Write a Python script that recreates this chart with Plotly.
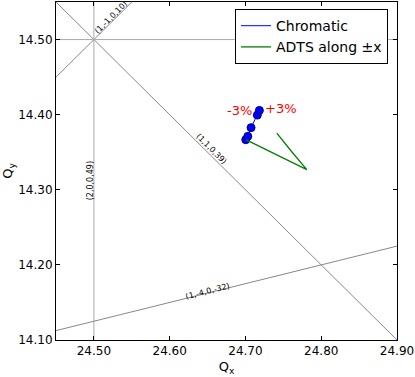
import numpy as np
import plotly.graph_objects as go

# resonance lines: a*Qx + b*Qy = n  (label, a, b, n)
res_labels = ["(1,-1,0,10)", "(1,1,0,39)", "(2,0,0,49)", "(0,2,0,29)", "(1,-4,0,-32)"]
res_a = [1, 1, 2, 0, 1]
res_b = [-1, 1, 0, 2, -4]
res_n = [10, 39, 49, 29, -32]
res_colors = ["#888888", "#888888", "#aaaaaa", "#aaaaaa", "#888888"]
# where each label sits (data coords) and its angle
lab_x = [24.5226, 24.6546, 24.4949, None, 24.6493]
lab_y = [14.5293, 14.3552, 14.3113, None, 14.1652]
lab_ang = [-45, 45, -90, 0, -14]

# chromatic tune footprint
chrom_x = [24.7004, 24.7031, 24.7074, 24.7157, 24.7184]
chrom_y = [14.3667, 14.3711, 14.3827, 14.3994, 14.4057]

# amplitude detuning along x
adts_x = [24.7004, 24.7410, 24.7810, 24.7600, 24.7414]
adts_y = [14.3667, 14.3470, 14.3269, 14.3520, 14.3755]

xr = [24.45, 24.90]
yr = [14.10, 14.55]

fig = go.Figure()

for lab, a, b, n, c in zip(res_labels, res_a, res_b, res_n, res_colors):
    if b == 0:
        xs = [n / a, n / a]
        ys = yr
    else:
        xs = np.array(xr)
        ys = (n - a * xs) / b
        xs = list(xs)
        ys = list(ys)
    fig.add_trace(go.Scatter(x=xs, y=ys, mode="lines", line=dict(color=c, width=1),
                             showlegend=False, hoverinfo="skip"))

for lab, lx, ly, ang in zip(res_labels, lab_x, lab_y, lab_ang):
    if lx is None:
        continue
    fig.add_annotation(x=lx, y=ly, text=lab, textangle=ang, showarrow=False,
                       font=dict(size=8, color="black"))

fig.add_trace(go.Scatter(x=chrom_x, y=chrom_y, mode="lines", name="Chromatic",
                         line=dict(color="blue", width=1)))
fig.add_trace(go.Scatter(x=chrom_x, y=chrom_y, mode="markers", showlegend=False,
                         marker=dict(color="blue", size=8, line=dict(color="#000080", width=1))))
fig.add_trace(go.Scatter(x=adts_x, y=adts_y, mode="lines", name="ADTS along \u00b1x",
                         line=dict(color="green", width=1.3)))

fig.add_annotation(x=chrom_x[-1], y=chrom_y[-1], text="-3%", showarrow=False,
                   xanchor="right", xshift=-5, yshift=0, font=dict(size=13, color="red"))
fig.add_annotation(x=chrom_x[-1], y=chrom_y[-1], text="+3%", showarrow=False,
                   xanchor="left", xshift=4, yshift=2, font=dict(size=13, color="red"))

axis = dict(showgrid=False, zeroline=False, showline=True, linecolor="black", linewidth=1,
            mirror="ticks", ticks="inside", ticklen=4, tickcolor="black", automargin=False,
            tickfont=dict(size=12, color="black"), tickformat=".2f")

fig.update_layout(
    width=415, height=377,
    margin=dict(l=56, r=18, t=2, b=37),
    paper_bgcolor="white", plot_bgcolor="white",
    font=dict(family="DejaVu Sans", color="black"),
    xaxis=dict(axis, range=xr, tickvals=[24.5, 24.6, 24.7, 24.8, 24.9],
               title=dict(text="Q<sub>x</sub>", font=dict(size=13), standoff=4)),
    yaxis=dict(axis, range=yr, tickvals=[14.1, 14.2, 14.3, 14.4, 14.5],
               title=dict(text="Q<sub>y</sub>", font=dict(size=13), standoff=6)),
    legend=dict(x=0.9736, y=0.979, xanchor="right", yanchor="top",
                bgcolor="white", bordercolor="black", borderwidth=1,
                font=dict(size=14), tracegroupgap=0),
)

fig.write_html("out.html", config={"displayModeBar": False},
               post_script="document.body.style.margin='0px';")
